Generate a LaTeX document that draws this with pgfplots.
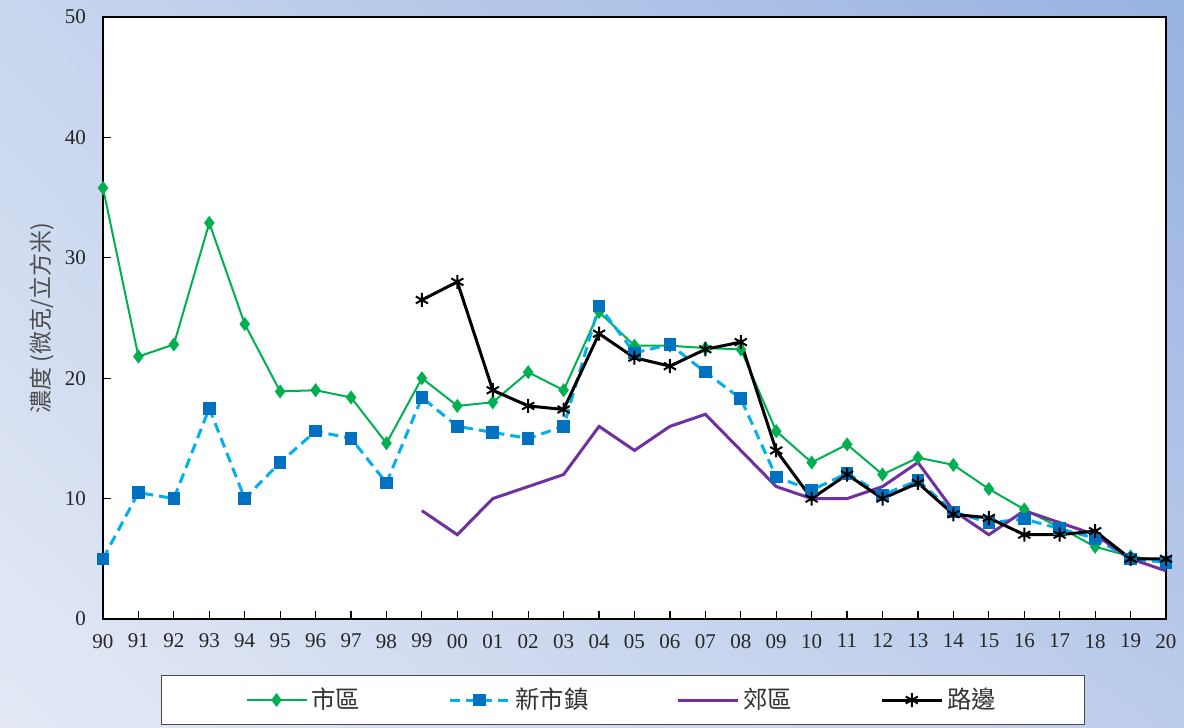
\documentclass[border=0pt]{standalone}
\usepackage{pgfplots}
\pgfplotsset{compat=1.18}
\usetikzlibrary{shadings}
\usepackage{fontspec}
\setmainfont{Liberation Serif}
\newfontfamily\cjk{Noto Sans CJK TC}
\definecolor{cgreen}{HTML}{00B050}
\definecolor{cblue}{HTML}{00B0F0}
\definecolor{cbluem}{HTML}{0070C0}
\definecolor{cpurple}{HTML}{7030A0}
\definecolor{bgll}{RGB}{228,233,245}
\definecolor{bgul}{RGB}{200,214,238}
\definecolor{bglr}{RGB}{188,204,235}
\definecolor{bgur}{RGB}{152,178,225}
\begin{document}
\begin{tikzpicture}
\shade[lower left=bgll, upper left=bgul, lower right=bglr, upper right=bgur]
  (-51.5pt,-54.5pt) rectangle (540.5pt,309.5pt);
\begin{axis}[
  at={(0,0)}, anchor=south west, scale only axis,
  width=531.5pt, height=301pt,
  xmin=0, xmax=30, ymin=0, ymax=50,
  xtick={0,...,30},
  xticklabels={90,91,92,93,94,95,96,97,98,99,00,01,02,03,04,05,06,07,08,09,10,11,12,13,14,15,16,17,18,19,20},
  ytick={0,10,20,30,40,50},
  tick align=inside, major tick length=4pt,
  xtick pos=bottom, ytick pos=left,
  axis line style={line width=1pt},
  tick style={line width=0.6pt, black},
  axis background/.style={fill=white},
  tick label style={font=\fontsize{10.5}{12}\selectfont, text=black!85},
  /pgf/number format/assume math mode=true,
  yticklabel style={xshift=-5pt},
  xticklabel style={yshift=-4pt},
  ylabel={\cjk 濃度 (微克/立方米)},
  every axis y label/.style={at={(axis description cs:-0.0574,0.5)}, rotate=90, anchor=center, font=\fontsize{11.5}{13}\selectfont, text=black!70},
  legend columns=4,
  legend cell align=left,
  legend style={at={(axis description cs:0.489,0)}, anchor=center, yshift=-40.5pt,
     draw=black!70, fill=white, line width=0.6pt,
     font=\cjk\fontsize{12.2}{14}\selectfont, inner xsep=42pt, inner ysep=4.5pt,
     nodes={inner xsep=2pt}, text=black!80},
  legend image code/.code={\draw[mark repeat=2,mark phase=2] plot coordinates {(0pt,0pt) (15pt,0pt) (30pt,0pt)};},
]
\addplot[cgreen, line width=1pt, mark=diamond*, mark size=2.7pt, mark options={solid, fill=cgreen, draw=cgreen}] coordinates {
(0,35.8) (1,21.8) (2,22.8) (3,32.9) (4,24.5) (5,18.9) (6,19.0) (7,18.4) (8,14.6) (9,20.0)
(10,17.7) (11,18.0) (12,20.5) (13,19.0) (14,25.5) (15,22.7) (16,22.7) (17,22.5) (18,22.4) (19,15.6)
(20,13.0) (21,14.5) (22,12.0) (23,13.4) (24,12.8) (25,10.8) (26,9.1) (27,7.6) (28,6.0) (29,5.2) (30,4.8)};
\addlegendentry{市區\hspace*{42pt}}
\addplot[cblue, line width=1.5pt, dash pattern=on 5pt off 3pt, mark=square*, mark size=2.9pt, mark options={solid, fill=cbluem, draw=cbluem, line width=0.5pt}] coordinates {
(0,5.0) (1,10.5) (2,10.0) (3,17.5) (4,10.0) (5,13.0) (6,15.6) (7,15.0) (8,11.3) (9,18.4)
(10,16.0) (11,15.5) (12,15.0) (13,16.0) (14,26.0) (15,22.1) (16,22.8) (17,20.5) (18,18.3) (19,11.8)
(20,10.7) (21,12.1) (22,10.3) (23,11.5) (24,8.9) (25,8.0) (26,8.3) (27,7.5) (28,6.7) (29,5.0) (30,4.7)};
\addlegendentry{新市鎮\hspace*{42pt}}
\addplot[cpurple, line width=1.5pt, mark=none] coordinates {
(9,9.0) (10,7.0) (11,10.0) (12,11.0) (13,12.0) (14,16.0) (15,14.0) (16,16.0) (17,17.0) (18,14.0)
(19,11.0) (20,10.0) (21,10.0) (22,11.0) (23,13.0) (24,9.0) (25,7.0) (26,9.0) (27,8.0) (28,7.0) (29,5.0) (30,4.0)};
\addlegendentry{郊區\hspace*{42pt}}
\addplot[black, line width=1.5pt, mark=asterisk, mark size=3.5pt, mark options={solid, line width=1pt}] coordinates {
(9,26.5) (10,28.0) (11,19.0) (12,17.7) (13,17.4) (14,23.7) (15,21.7) (16,21.0) (17,22.4) (18,23.0)
(19,14.0) (20,10.0) (21,12.0) (22,10.0) (23,11.3) (24,8.7) (25,8.4) (26,7.0) (27,7.0) (28,7.3) (29,5.0) (30,5.0)};
\addlegendentry{路邊}
\end{axis}
\end{tikzpicture}
\end{document}
